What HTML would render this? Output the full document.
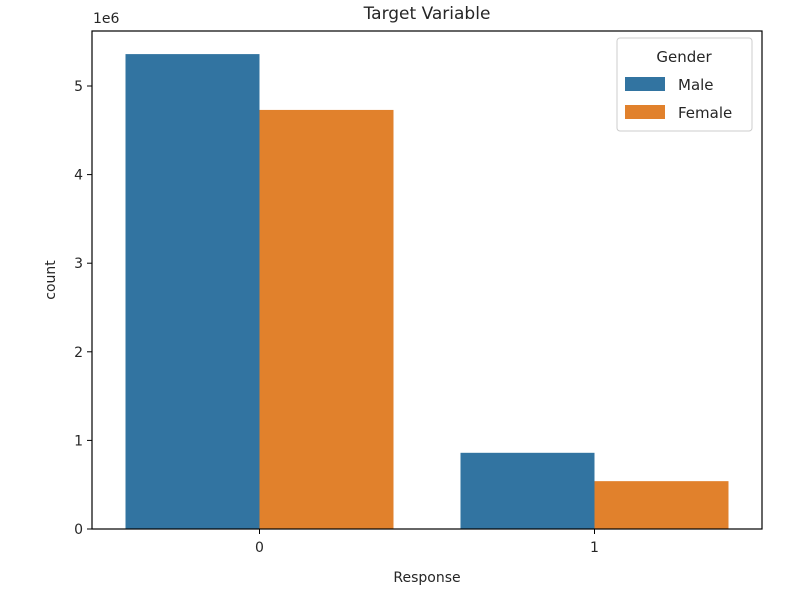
<!DOCTYPE html>
<html><head><meta charset="utf-8"><style>
body{margin:0;background:#fff;font-family:"Liberation Sans","DejaVu Sans",sans-serif;}
svg text{font-family:"DejaVu Sans","Liberation Sans",sans-serif;fill:#262626;}
</style></head><body>
<svg id="chart" width="807" height="598" xmlns="http://www.w3.org/2000/svg"></svg>
<script>
const categories = ["0","1"];
const seriesNames = ["Male","Female"];
const maleValues = [5.36, 0.86];
const femaleValues = [4.73, 0.54];
const yTicks = [0,1,2,3,4,5];
const colors = ["#3274a1","#e1812c"];

const svg = document.getElementById('chart');
const NS = 'http://www.w3.org/2000/svg';
const L=92, R=762, T=31, B=529;
const yScale = v => B - v*88.6;
const band = (R-L)/categories.length;
const xCenter = i => L + band*(i+0.5);
function mk(tag, attrs, text){const e=document.createElementNS(NS,tag);for(const k in attrs)e.setAttribute(k,attrs[k]);if(text!==undefined)e.textContent=text;svg.appendChild(e);return e;}

const allSeries=[maleValues,femaleValues];
const bw = band*0.4;
allSeries.forEach((vals,s)=>{
  vals.forEach((v,i)=>{
    const x = xCenter(i) - bw + s*bw;
    const r = mk('rect',{x:x,y:yScale(v),width:bw,height:B-yScale(v),fill:colors[s]});
    
    
  });
});
yTicks.forEach(t=>{
  const y=yScale(t);
  const l=mk('line',{x1:L-5,x2:L,y1:y,y2:y,stroke:'#000','stroke-width':1});
  
  
  const tx=mk('text',{x:L-9,y:y+5,'text-anchor':'end','font-size':14},String(t));
  
  
});
categories.forEach((c,i)=>{
  const x=xCenter(i);
  const l=mk('line',{x1:x,x2:x,y1:B,y2:B+5,stroke:'#000','stroke-width':1});
  
  
  const tx=mk('text',{x:x,y:B+23,'text-anchor':'middle','font-size':14},c);
  
  
});
const frame=mk('rect',{x:L,y:T,width:R-L,height:B-T,fill:'none',stroke:'#000','stroke-width':1.2});


const off=mk('text',{x:93,y:23,'font-size':14},'1e6');


const title=mk('text',{x:(L+R)/2,y:19,'text-anchor':'middle','font-size':17},'Target Variable');


const xt=mk('text',{x:(L+R)/2,y:582,'text-anchor':'middle','font-size':14},'Response');


const yt=mk('text',{x:55,y:(T+B)/2,'text-anchor':'middle','font-size':14,transform:'rotate(-90 55 '+((T+B)/2)+')'},'count');


const lg=mk('rect',{x:617,y:38,width:135,height:93,rx:3,fill:'#fff',stroke:'#ccc'});


const lgt=mk('text',{x:684,y:62,'text-anchor':'middle','font-size':15},'Gender');


seriesNames.forEach((n,s)=>{
  const y=77+s*28;
  const sw=mk('rect',{x:625,y:y,width:40,height:14,fill:colors[s]});
  
  
  const t=mk('text',{x:678,y:y+13,'font-size':15},n);
  
  
});
</script>
</body></html>
